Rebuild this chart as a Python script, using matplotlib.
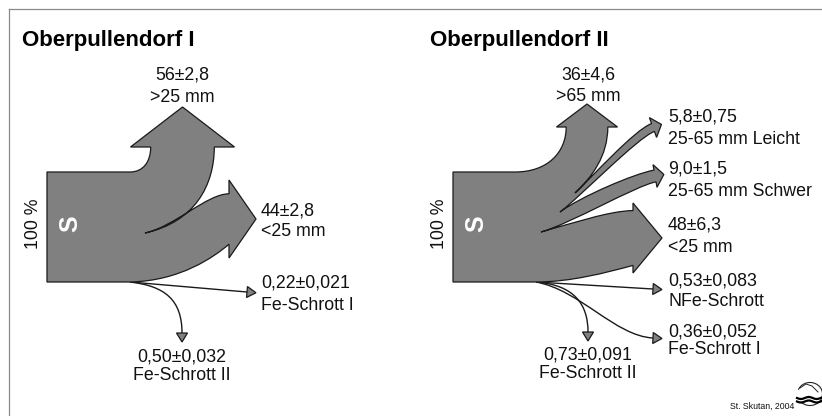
import numpy as np
import matplotlib
matplotlib.use("Agg")
import matplotlib.pyplot as plt
from matplotlib.path import Path
from matplotlib.patches import PathPatch, Polygon, Arc

plt.rcParams['font.family'] = ['Liberation Sans', 'DejaVu Sans']

# ---------------- data ----------------
titles = ["Oberpullendorf I", "Oberpullendorf II"]
input_label = "100 %"
source_label = "S"

p1_values = [56, 44, 0.22, 0.50]
p1_value_text = ["56±2,8", "44±2,8", "0,22±0,021", "0,50±0,032"]
p1_names = [">25 mm", "<25 mm", "Fe-Schrott I", "Fe-Schrott II"]

p2_values = [36, 5.8, 9.0, 48, 0.53, 0.36, 0.73]
p2_value_text = ["36±4,6", "5,8±0,75", "9,0±1,5", "48±6,3",
                 "0,53±0,083", "0,36±0,052", "0,73±0,091"]
p2_names = [">65 mm", "25-65 mm Leicht", "25-65 mm Schwer", "<25 mm",
            "NFe-Schrott", "Fe-Schrott I", "Fe-Schrott II"]

credit = "St. Skutan, 2004"

# ---------------- style ----------------
K = 1.1            # px per percent of flow
W0 = 2.0           # extra px so very thin flows stay visible
FILL = "#808080"
EDGE = "#1a1a1a"
LW = 0.9
FS = 12.8

fig = plt.figure(figsize=(8.22, 4.16), dpi=100)
ax = fig.add_axes([0, 0, 1, 1])
ax.set_xlim(0, 822)
ax.set_ylim(416, 0)
ax.axis('off')

# frame
ax.plot([9, 822], [9, 9], color="#8a8a8a", lw=0.9)
ax.plot([9, 9], [9, 416], color="#8a8a8a", lw=0.9)


def width(v):
    return v * K + W0


def head(c, ang, w, hw, hl):
    a = np.deg2rad(ang)
    d = np.array([np.cos(a), -np.sin(a)])
    n = np.array([-np.sin(a), -np.cos(a)])
    c = np.array(c, float)
    return dict(st=c + n * w / 2, ht=c + n * hw / 2, tip=c + d * hl,
                hb=c - n * hw / 2, sb=c - n * w / 2, d=d)


def build(segs):
    verts, codes = [], []
    for s in segs:
        if s[0] == 'M':
            verts.append(s[1]); codes.append(Path.MOVETO)
        elif s[0] == 'L':
            verts.append(s[1]); codes.append(Path.LINETO)
        elif s[0] == 'C':
            verts += [s[1], s[2], s[3]]; codes += [Path.CURVE4] * 3
    return verts, codes


def closed_patch(segs):
    verts, codes = build(segs)
    verts.append(verts[0]); codes.append(Path.CLOSEPOLY)
    ax.add_patch(PathPatch(Path(verts, codes), facecolor=FILL, edgecolor=EDGE,
                           lw=LW, joinstyle='miter', zorder=2))


def head_segs(h):
    return [('L', h['ht']), ('L', h['tip']), ('L', h['hb']), ('L', h['sb'])]


def thin_arrow(segs, end, d, hl=9, hw=11):
    verts, codes = build(segs)
    ax.add_patch(PathPatch(Path(verts, codes), facecolor='none', edgecolor=EDGE,
                           lw=1.0, zorder=1))
    d = np.array(d, float); d = d / np.linalg.norm(d)
    n = np.array([-d[1], d[0]])
    e = np.array(end, float)
    tri = [e + n * hw / 2, e + d * hl, e - n * hw / 2]
    ax.add_patch(Polygon(tri, closed=True, facecolor=FILL, edgecolor=EDGE,
                         lw=0.9, zorder=3))


def T(x, y, s, **kw):
    kw.setdefault('fontsize', FS)
    kw.setdefault('color', '#111111')
    ax.text(x, y, s, **kw)


# ================= Panel I =================
hA = head((182.5, 147), 90, width(p1_values[0]), 104, 40)
hB = head((229, 219), 0, width(p1_values[1]), 78, 27)
segs = [('M', (130, 282)), ('L', (47, 282)), ('L', (47, 172)), ('L', (130, 172)),
        ('C', (143, 172), (hA['st'][0], 162), hA['st'])]
segs += head_segs(hA)
segs += [('C', (hA['sb'][0], 185), (195, 222), (145, 233)),
         ('C', (175, 226.4), (207, hB['st'][1]), hB['st'])]
segs += head_segs(hB)
segs += [('C', (214, 257), (180, 281), (130, 282))]
closed_patch(segs)

thin_arrow([('M', (130, 282)), ('L', (247, 292))], (247, 292), (117, 10))
thin_arrow([('M', (130, 282)), ('C', (165, 286), (182, 300), (182, 333))], (182, 333), (0, 1))

T(22, 45.7, titles[0], fontsize=16, fontweight='bold', color='black')
T(33, 224, input_label, rotation=90, ha='center', va='center')
T(70, 224, source_label, rotation=90, ha='center', va='center', fontsize=18,
  fontweight='bold', color='white')

T(182, 80, p1_value_text[0], ha='center', va='baseline')
T(182, 102, p1_names[0], ha='center', va='baseline')
T(261, 215, p1_value_text[1], ha='left', va='baseline')
T(261, 236.5, p1_names[1], ha='left', va='baseline')
T(261, 287.5, p1_value_text[2], ha='left', va='baseline')
T(261, 309.5, p1_names[2], ha='left', va='baseline')
T(182, 361.5, p1_value_text[3], ha='center', va='baseline')
T(182, 379.5, p1_names[3], ha='center', va='baseline')

# ================= Panel II =================
h0 = head((587, 127), 90, width(p2_values[0]), 61, 23)
h1 = head((653, 127.5), 20, width(p2_values[1]), 21, 9)
h2 = head((655, 176), 10, width(p2_values[2]), 23, 9)
h3 = head((633, 238), 0, width(p2_values[3]), 70, 29)

segs = [('M', (536, 282)), ('L', (453, 282)), ('L', (453, 172)), ('L', (515, 172)),
        ('C', (548, 172), (h0['st'][0], 152), h0['st'])]
segs += head_segs(h0)
segs += [('C', (h0['sb'][0], 156), (592, 177), (575, 193)),
         ('C', (592, 177), h1['st'] - 18 * h1['d'], h1['st'])]
segs += head_segs(h1)
segs += [('C', h1['sb'] - 18 * h1['d'], (580, 197), (560, 212)),
         ('C', (580, 197), h2['st'] - 20 * h2['d'], h2['st'])]
segs += head_segs(h2)
segs += [('C', h2['sb'] - 20 * h2['d'], (570, 224), (541, 232)),
         ('C', (570, 224), (610, h3['st'][1]), h3['st'])]
segs += head_segs(h3)
segs += [('C', (605, 273), (570, 282), (536, 282))]
closed_patch(segs)

thin_arrow([('M', (536, 282)), ('L', (653, 289))], (653, 289), (117, 7))
thin_arrow([('M', (536, 282)), ('C', (580, 290), (615, 336), (653, 338))], (653, 338), (38, 2))
thin_arrow([('M', (536, 282)), ('C', (575, 285), (588, 305), (588, 332))], (588, 332), (0, 1))

T(429.5, 45.7, titles[1], fontsize=16, fontweight='bold', color='black')
T(439, 224, input_label, rotation=90, ha='center', va='center')
T(476.5, 224, source_label, rotation=90, ha='center', va='center', fontsize=18,
  fontweight='bold', color='white')

T(588, 79.5, p2_value_text[0], ha='center', va='baseline')
T(588, 101, p2_names[0], ha='center', va='baseline')
rx = 668
ys = [(122, 144), (173.5, 195.5), (230, 252.5), (285, 306.5), (336.5, 354.5)]
for i, (y1, y2) in enumerate(ys, start=1):
    T(rx, y1, p2_value_text[i], ha='left', va='baseline')
    T(rx, y2, p2_names[i], ha='left', va='baseline')
T(588, 360, p2_value_text[6], ha='center', va='baseline')
T(588, 378, p2_names[6], ha='center', va='baseline')

# credit + small logo
T(730, 409, credit, fontsize=6.3, ha='left', va='baseline')
ax.add_patch(Arc((810, 394), 25, 23, theta1=200, theta2=500, color='#222222', lw=0.8))
ax.plot([800, 806, 812, 818], [388, 384, 386, 392], color='#222222', lw=0.7)
for yy in (398, 401.5):
    xs = np.linspace(797, 822, 30)
    ax.plot(xs, yy + 1.0 * np.sin((xs - 797) / 2.5), color='black', lw=1.6)

fig.savefig("out.png", dpi=100, facecolor='white')
